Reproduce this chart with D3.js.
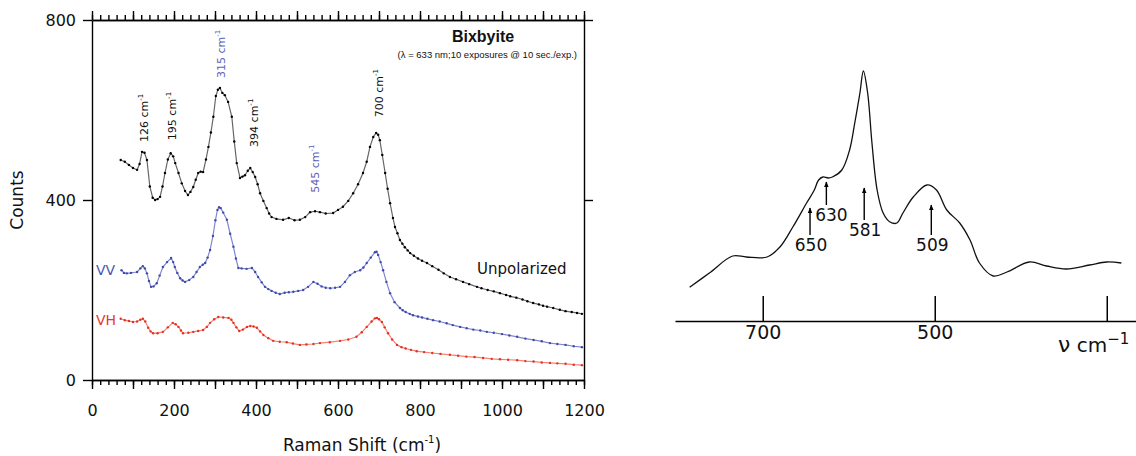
<!DOCTYPE html>
<html><head><meta charset="utf-8">
<script src="https://cdn.jsdelivr.net/npm/d3@7"></script>
<style>body{margin:0;background:#fff}svg{display:block}</style>
</head><body>
<svg id="c" width="1136" height="456"></svg>
<script>
// ---------- Left panel data (Raman shift cm-1, counts) ----------
const unpolShift = [70,80,90,100,110,116,122,128,134,141,148,154,160,166,172,178,185,192,198,203,211,219,227,234,240,247,253,259,265,271,278,284,290,296,302,307,312,318,324,332,341,347,353,361,367,373,380,386,392,398,404,410,418,426,432,438,450,466,480,494,507,520,532,544,556,570,588,600,612,625,637,649,661,670,678,686,693,698,702,708,715,721,727,734,739,745,751,757,763,770,776,785,795,805,817,830,845,858,873,888,905,920,939,950,965,980,995,1010,1020,1035,1050,1062,1076,1090,1100,1110,1125,1141,1155,1170,1183,1195];
const unpolCounts = [489,485,478,471,467,480,507,505,489,430,405,400,402,407,430,460,490,504,497,482,460,437,420,411,418,429,445,460,463,462,490,518,550,585,631,645,649,638,633,618,585,530,482,449,452,455,465,471,462,451,435,415,398,382,370,362,358,356,360,355,356,362,373,375,373,370,371,378,385,398,415,435,460,485,518,540,549,545,533,500,460,425,393,360,340,326,311,303,295,288,282,276,270,265,260,253,245,237,229,224,218,213,207,204,200,197,193,189,186,183,179,175,171,168,165,163,160,156,153,151,149,147];

const vvShift = [72,78,85,95,110,118,124,129,134,139,144,150,158,165,173,183,193,198,202,208,215,221,227,237,247,255,263,270,276,282,288,295,301,306,310,314,320,329,337,345,351,357,365,377,390,398,405,414,422,430,438,448,458,470,480,491,503,515,527,540,550,560,570,581,593,605,617,629,641,654,662,670,680,690,694,698,704,710,718,727,738,751,758,765,775,783,795,805,818,832,848,865,880,898,914,930,947,963,980,1000,1018,1037,1057,1077,1097,1117,1135,1155,1175,1195];
const vvCounts = [244,238,237,238,240,248,253,248,237,220,207,208,215,232,251,262,271,262,251,238,226,221,218,222,229,240,251,256,260,272,289,320,355,378,384,382,372,356,325,296,270,249,248,247,249,240,229,217,207,202,198,194,191,194,195,196,198,200,207,218,214,208,205,204,205,207,218,233,240,244,250,260,272,284,285,278,262,244,218,193,173,160,155,151,147,144,141,139,136,133,130,126,122,118,115,112,110,107,105,102,99,96,92,89,86,82,80,78,75,73];

const vhShift = [70,80,90,100,110,118,124,130,137,143,149,160,173,185,197,204,211,217,222,235,247,259,271,280,288,298,308,320,333,340,345,352,359,368,378,386,394,402,410,418,430,442,458,475,490,507,523,540,556,580,605,625,645,658,670,682,690,695,700,707,714,722,732,744,755,765,778,792,810,830,850,873,893,913,933,954,975,995,1015,1037,1057,1077,1097,1117,1135,1155,1175,1195];
const vhCounts = [136,133,131,129,130,134,136,130,116,108,104,104,107,117,127,124,118,110,104,105,107,109,111,118,127,135,140,139,138,134,127,117,109,112,118,120,119,116,108,100,93,87,85,84,81,78,79,80,82,84,87,90,96,106,118,130,137,138,135,129,117,104,90,78,73,70,67,64,62,60,58,56,54,52,51,49,47,46,45,44,42,41,39,38,37,36,34,33];

const xTickLabels = [0,200,400,600,800,1000,1200];
const yTickLabels = [0,400,800];
const peakValues = [126,195,315,394,545,700];
const peakLabelCounts = [529,533,671,518,416,584];
const peakIsBlue = [false,false,true,false,true,false];

// ---------- Right panel data (wavenumber cm-1, relative intensity) ----------
const irWave = [785,762,735,719,695,680,665,649,640,635,630,624,619,608,599,593,587,583,578,573,567,560,552,544,537,525,509,498,486,471,459,448,432,416,390,370,347,320,300,283];
const irInt  = [13.5,19.2,26,25.6,25.6,29.6,37.6,47.2,52.4,56.4,57.6,57.2,57.6,60.4,68.4,79.2,91.2,100,91.2,71.2,52.4,43.2,39.6,39.2,43.2,49.6,54.4,52.4,44.4,39.2,32.4,23.2,18,19.6,23.6,22,20.8,22.4,23.6,23.2];
const irTicks = [700,500,300];
const arrowLabels = ["650","630","581","509"];
const arrowWave = [645,626,582,504];
const arrowTip  = [45.2,55.6,53.2,46.4];
const arrowTail = [34.4,46.4,40.4,34.4];

const svg = d3.select("#c");
svg.append("rect").attr("width",1136).attr("height",456).attr("fill","#fff");
const FONT = "'DejaVu Sans', Verdana, sans-serif";

// ================= LEFT PANEL =================
const x = d3.scaleLinear().domain([0,1200]).range([92,584]);
const y = d3.scaleLinear().domain([0,800]).range([380,20]);
const minor = d3.range(0,1201,20), major = d3.range(0,1201,100);

function styleAxis(g){ g.selectAll("path,line").attr("stroke","#000").attr("stroke-width",1.4); g.selectAll("text").attr("font-family",FONT).attr("fill","#111"); }

svg.append("g").attr("transform","translate(0,380)")
  .call(d3.axisBottom(x).tickValues(minor).tickSize(5).tickFormat("").tickSizeOuter(0)).call(styleAxis);
svg.append("g").attr("transform","translate(0,380)")
  .call(d3.axisBottom(x).tickValues(major).tickSize(9).tickPadding(16).tickSizeOuter(0)
    .tickFormat(d => xTickLabels.includes(d) ? d : "")).call(styleAxis)
  .selectAll("text").attr("font-size",16);
svg.append("g").attr("transform","translate(0,20)")
  .call(d3.axisTop(x).tickValues(minor).tickSize(5).tickFormat("").tickSizeOuter(0)).call(styleAxis);
svg.append("g").attr("transform","translate(0,20)")
  .call(d3.axisTop(x).tickValues(major).tickSize(9).tickFormat("").tickSizeOuter(0)).call(styleAxis);
svg.append("g").attr("transform","translate(92,0)")
  .call(d3.axisLeft(y).tickValues(yTickLabels).tickSize(9).tickPadding(7).tickSizeOuter(0)).call(styleAxis)
  .selectAll("text").attr("font-size",16);
svg.append("g").attr("transform","translate(584,0)")
  .call(d3.axisRight(y).tickValues([400,800]).tickSize(9).tickFormat("").tickSizeOuter(0)).call(styleAxis);

svg.append("text").attr("transform","translate(23,200) rotate(-90)").attr("text-anchor","middle")
  .attr("font-family",FONT).attr("font-size",17).attr("fill","#111").text("Counts");
const xt = svg.append("text").attr("x",362).attr("y",451).attr("text-anchor","middle")
  .attr("font-family",FONT).attr("font-size",17).attr("fill","#111");
xt.append("tspan").text("Raman Shift (cm");
xt.append("tspan").attr("font-size",10).attr("dy",-8).text("-1");
xt.append("tspan").attr("dy",8).text(")");

const seriesDefs = [
  {sx:unpolShift, sy:unpolCounts, line:"#666", dot:"#000"},
  {sx:vvShift, sy:vvCounts, line:"#7f87cc", dot:"#3f49ad"},
  {sx:vhShift, sy:vhCounts, line:"#f08478", dot:"#e8301f"}
];
const lineGen = d3.line().x(d=>x(d[0])).y(d=>y(d[1])).curve(d3.curveLinear);
seriesDefs.forEach(s=>{
  const pts = s.sx.map((v,i)=>[v,s.sy[i]]);
  svg.append("path").datum(pts).attr("d",lineGen).attr("fill","none").attr("stroke",s.line).attr("stroke-width",1.2);
  svg.append("g").selectAll("circle").data(pts).join("circle")
    .attr("cx",d=>x(d[0])).attr("cy",d=>y(d[1])).attr("r",1.2).attr("fill",s.dot);
});

svg.append("text").attr("x",96).attr("y",275).attr("font-family",FONT).attr("font-size",14).attr("fill","#4b55b3").text("VV");
svg.append("text").attr("x",96).attr("y",325).attr("font-family",FONT).attr("font-size",14).attr("fill","#e8372b").text("VH");
svg.append("text").attr("x",477).attr("y",274).attr("font-family",FONT).attr("font-size",15).attr("fill","#111").text("Unpolarized");

svg.append("text").attr("x",483).attr("y",42).attr("text-anchor","middle").attr("font-family","'Liberation Sans', Arial, sans-serif")
  .attr("font-weight","bold").attr("font-size",16).attr("fill","#111").text("Bixbyite");
svg.append("text").attr("x",577).attr("y",58).attr("text-anchor","end").attr("font-family","'Liberation Sans', Arial, sans-serif")
  .attr("font-size",9.5).attr("fill","#111").text("(λ = 633 nm;10 exposures @ 10 sec./exp.)");

peakValues.forEach((p,i)=>{
  const t = svg.append("text").attr("transform",`translate(${x(p)+4},${y(peakLabelCounts[i])}) rotate(-90)`)
    .attr("font-family",FONT).attr("font-size",11).attr("fill",peakIsBlue[i]?"#5a62b8":"#111");
  t.append("tspan").text(p+" cm");
  t.append("tspan").attr("font-size",7).attr("dy",-5).text("-1");
});

// ================= RIGHT PANEL =================
const xr = d3.scaleLinear().domain([802,266]).range([675,1136]);
const yr = d3.scaleLinear().domain([0,100]).range([321,71]);
const gR = svg.append("g").attr("transform","translate(0,321)")
  .call(d3.axisBottom(xr).tickValues(irTicks).tickSizeInner(-25).tickSizeOuter(0).tickPadding(5)
    .tickFormat(d => d===300 ? "" : d));
gR.selectAll("path,line").attr("stroke","#000").attr("stroke-width",1.5);
gR.selectAll("text").attr("font-family",FONT).attr("font-size",19).attr("fill","#111");

const nu = svg.append("text").attr("x",1058).attr("y",352).attr("font-family",FONT).attr("font-size",20).attr("fill","#111");
nu.append("tspan").attr("font-size",22).text("ν");
nu.append("tspan").text(" cm");
nu.append("tspan").attr("dy",-8).attr("font-size",15).text("−1");

const irPts = irWave.map((w,i)=>[w,irInt[i]]);
svg.append("path").datum(irPts)
  .attr("d", d3.line().x(d=>xr(d[0])).y(d=>yr(d[1])).curve(d3.curveCatmullRom.alpha(0.5)))
  .attr("fill","none").attr("stroke","#111").attr("stroke-width",1.3);

svg.append("defs").append("marker").attr("id","ah").attr("viewBox","0 0 10 10").attr("refX",9).attr("refY",5)
  .attr("markerWidth",6).attr("markerHeight",6).attr("markerUnits","userSpaceOnUse").attr("orient","auto")
  .append("path").attr("d","M0,1 L10,5 L0,9 Z").attr("fill","#000");
arrowWave.forEach((w,i)=>{
  svg.append("line").attr("x1",xr(w)).attr("x2",xr(w)).attr("y1",yr(arrowTail[i])).attr("y2",yr(arrowTip[i]))
    .attr("stroke","#000").attr("stroke-width",1.4).attr("marker-end","url(#ah)");
  svg.append("text").attr("x",xr(w)+(i===1?5:1)).attr("y",yr(arrowTail[i])+3).attr("dy","0.75em")
    .attr("text-anchor","middle").attr("font-family",FONT).attr("font-size",17).attr("fill","#111").text(arrowLabels[i]);
});
</script>
</body></html>
